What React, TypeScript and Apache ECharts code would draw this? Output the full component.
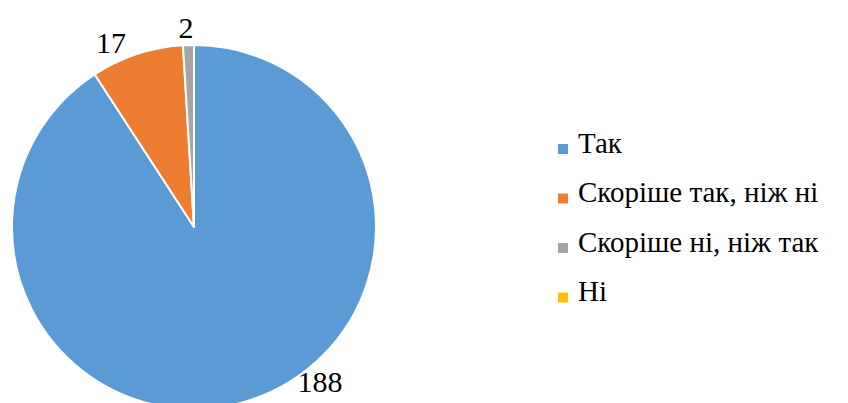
import React, { useEffect, useRef } from "react";
import * as echarts from "echarts";

const categories = ["Так", "Скоріше так, ніж ні", "Скоріше ні, ніж так", "Ні"];
const values = [188, 17, 2, 0];
const colors = ["#5B9BD5", "#ED7D31", "#A5A5A5", "#FFC000"];

const labelPos: Record<number, [number, number]> = {
  0: [320, 381],
  1: [111, 42],
  2: [186, 27],
};

export default function App() {
  const ref = useRef<HTMLDivElement>(null);
  useEffect(() => {
    document.body.style.margin = "0";
    const chart = echarts.init(ref.current!, null, { renderer: "svg" });
    const font = "Liberation Serif";
    const fontSize = 29;
    const legendTop0 = 128;
    const legendPitch = 49.5;
    const legendTexts = categories.map((name, i) => ({
      type: "text",
      left: 578,
      top: legendTop0 + i * legendPitch,
      style: { text: name, fontFamily: font, fontSize },
    }));
    const legendIcons = categories.map((name, i) => ({
      type: "rect",
      left: 558,
      top: legendTop0 + 16 + i * legendPitch,
      shape: { x: 0, y: 0, width: 10, height: 10 },
      style: { fill: colors[i] },
    }));
    chart.setOption({
      animation: false,
      color: colors,
      graphic: [...legendIcons, ...legendTexts],
      series: [
        {
          type: "pie",
          center: [194, 227],
          radius: 182,
          startAngle: 90,
          clockwise: true,
          avoidLabelOverlap: false,
          itemStyle: { borderColor: "#fff", borderWidth: 2 },
          label: {
            show: true,
            position: "outside",
            formatter: "{c}",
            fontFamily: font,
            fontSize: 30,
            color: "#000",
          },
          labelLine: { show: false },
          labelLayout: (p: any) => {
            const pos = labelPos[p.dataIndex];
            if (pos) {
              return { x: pos[0], y: pos[1], align: "center", verticalAlign: "middle" };
            }
            return {};
          },
          data: categories.map((name, i) => ({
            name,
            value: values[i],
            label: values[i] === 0 ? { show: false } : undefined,
          })),
        },
      ],
    });
    return () => chart.dispose();
  }, []);
  return <div ref={ref} style={{ width: 848, height: 403 }} />;
}
